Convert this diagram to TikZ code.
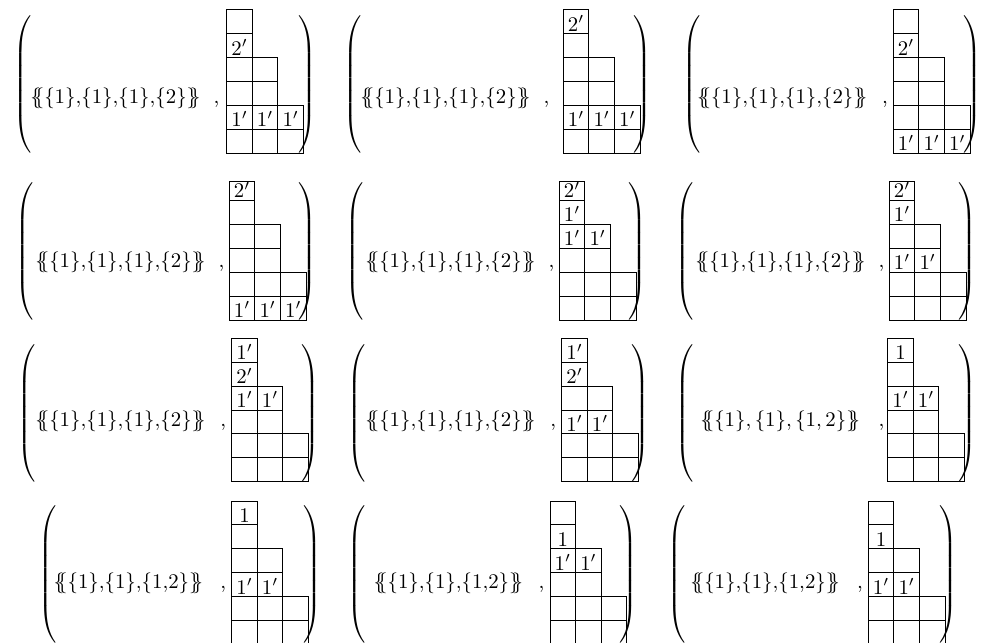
\documentclass[tikz,border=0pt]{standalone}
\usepackage{amsmath}

\newcommand{\lparbig}{$\delimitershortfall=0pt\delimiterfactor=1000\left(\vcenter{\hbox{\rule{0pt}{66pt}}}\right.$}
\newcommand{\rparbig}{$\delimitershortfall=0pt\delimiterfactor=1000\left.\vcenter{\hbox{\rule{0pt}{66pt}}}\right)$}
\newcommand{\msetA}{$\{\!\!\{\{1\}{,}\{1\}{,}\{1\}{,}\{2\}\}\!\!\}$}
\newcommand{\msetB}{$\{\!\!\{\{1\}{,}\{1\}{,}\{1{,}2\}\}\!\!\}$}
\newcommand{\msetC}{$\{\!\!\{\{1\},\{1\},\{1,2\}\}\!\!\}$}
\newcommand{\youngframe}[1]{%
	\foreach \r/\n in {0/3,1/3,2/2,3/2,4/1}
		\foreach \c in {1,...,\n}
			\draw[cell] ({(\c-1)*25.6},{-\r*23.9}) rectangle ++(25.6,-23.9);
	\draw[cell] (0,-119.5) rectangle ++(25.6,-#1);}

\tikzset{
	lpar/.style={anchor=west,inner sep=0pt},
	rpar/.style={anchor=east,inner sep=0pt},
	mset/.style={anchor=base west,inner sep=0pt},
	lab/.style={anchor=base,inner sep=0pt},
	cell/.style={black,line width=0.45pt}
}

\begin{document}
\begin{tikzpicture}[x=0.48pt,y=-0.48pt]
	\useasboundingbox (0,0) rectangle (991,643);

	\node[lpar] (p1l) at (13.3,84.3) {\lparbig};
	\node[mset] (p1m) at (30,104) {\msetA};
	\node[mset] (p1c) at (213.3,104) {,};
	\begin{scope}[shift={(226.7,153.3)},name prefix=p1-]
		\youngframe{23.9}
		\foreach \c/\r/\t in {1/4/2',1/1/1',2/1/1',3/1/1'}
			\node[lab] (c\c\r) at ({(\c-.5)*25.6},{-\r*23.9-2.5}) {$\t$};
	\end{scope}
	\node[rpar] (p1r) at (316.7,84.3) {\rparbig};

	\node[lpar] (p2l) at (343.3,84.3) {\lparbig};
	\node[mset] (p2m) at (360,104) {\msetA};
	\node[mset] (p2c) at (543.3,104) {,};
	\begin{scope}[shift={(563.3,153.3)},name prefix=p2-]
		\youngframe{23.9}
		\foreach \c/\r/\t in {1/5/2',1/1/1',2/1/1',3/1/1'}
			\node[lab] (c\c\r) at ({(\c-.5)*25.6},{-\r*23.9-2.5}) {$\t$};
	\end{scope}
	\node[rpar] (p2r) at (651.7,84.3) {\rparbig};

	\node[lpar] (p3l) at (681.7,84.3) {\lparbig};
	\node[mset] (p3m) at (696.7,104) {\msetA};
	\node[mset] (p3c) at (881.7,104) {,};
	\begin{scope}[shift={(893.3,153.3)},name prefix=p3-]
		\youngframe{23.9}
		\foreach \c/\r/\t in {1/4/2',1/0/1',2/0/1',3/0/1'}
			\node[lab] (c\c\r) at ({(\c-.5)*25.6},{-\r*23.9-2.5}) {$\t$};
	\end{scope}
	\node[rpar] (p3r) at (981.7,84.3) {\rparbig};

	\node[lpar] (p4l) at (15,251.3) {\lparbig};
	\node[mset] (p4m) at (35,267.7) {\msetA};
	\node[mset] (p4c) at (218.3,267.7) {,};
	\begin{scope}[shift={(229.3,320)},name prefix=p4-]
		\youngframe{19.5}
		\foreach \c/\r/\t in {1/5/2',1/0/1',2/0/1',3/0/1'}
			\node[lab] (c\c\r) at ({(\c-.5)*25.6},{-\r*23.9-2.5}) {$\t$};
	\end{scope}
	\node[rpar] (p4r) at (316.7,251.3) {\rparbig};

	\node[lpar] (p5l) at (345,251.3) {\lparbig};
	\node[mset] (p5m) at (365,267.7) {\msetA};
	\node[mset] (p5c) at (548.3,267.7) {,};
	\begin{scope}[shift={(559.3,320)},name prefix=p5-]
		\youngframe{19.5}
		\foreach \c/\r/\t in {1/5/2',1/4/1',1/3/1',2/3/1'}
			\node[lab] (c\c\r) at ({(\c-.5)*25.6},{-\r*23.9-2.5}) {$\t$};
	\end{scope}
	\node[rpar] (p5r) at (646.7,251.3) {\rparbig};

	\node[lpar] (p6l) at (675,251.3) {\lparbig};
	\node[mset] (p6m) at (695,267.7) {\msetA};
	\node[mset] (p6c) at (878.3,267.7) {,};
	\begin{scope}[shift={(889.3,320)},name prefix=p6-]
		\youngframe{19.5}
		\foreach \c/\r/\t in {1/5/2',1/4/1',1/2/1',2/2/1'}
			\node[lab] (c\c\r) at ({(\c-.5)*25.6},{-\r*23.9-2.5}) {$\t$};
	\end{scope}
	\node[rpar] (p6r) at (976.7,251.3) {\rparbig};

	\node[lpar] (p7l) at (16.7,413) {\lparbig};
	\node[mset] (p7m) at (35,426.7) {\msetA};
	\node[mset] (p7c) at (220,426.7) {,};
	\begin{scope}[shift={(231.7,481.7)},name prefix=p7-]
		\youngframe{23.9}
		\foreach \c/\r/\t in {1/5/1',1/4/2',1/3/1',2/3/1'}
			\node[lab] (c\c\r) at ({(\c-.5)*25.6},{-\r*23.9-2.5}) {$\t$};
	\end{scope}
	\node[rpar] (p7r) at (320,413) {\rparbig};

	\node[lpar] (p8l) at (346.7,413) {\lparbig};
	\node[mset] (p8m) at (365,426.7) {\msetA};
	\node[mset] (p8c) at (550,426.7) {,};
	\begin{scope}[shift={(561.7,481.7)},name prefix=p8-]
		\youngframe{23.9}
		\foreach \c/\r/\t in {1/5/1',1/4/2',1/2/1',2/2/1'}
			\node[lab] (c\c\r) at ({(\c-.5)*25.6},{-\r*23.9-2.5}) {$\t$};
	\end{scope}
	\node[rpar] (p8r) at (650,413) {\rparbig};

	\node[lpar] (p9l) at (675,413) {\lparbig};
	\node[mset] (p9m) at (700,426.7) {\msetC};
	\node[mset] (p9c) at (878.3,426.7) {,};
	\begin{scope}[shift={(887.7,481.7)},name prefix=p9-]
		\youngframe{23.9}
		\foreach \c/\r/\t in {1/5/1,1/3/1',2/3/1'}
			\node[lab] (c\c\r) at ({(\c-.5)*25.6},{-\r*23.9-2.5}) {$\t$};
	\end{scope}
	\node[rpar] (p9r) at (976.7,413) {\rparbig};

	\node[lpar] (p10l) at (38.3,574.7) {\lparbig};
	\node[mset] (p10m) at (53.3,588.3) {\msetB};
	\node[mset] (p10c) at (220,588.3) {,};
	\begin{scope}[shift={(231.7,644.4)},name prefix=p10-]
		\youngframe{23.9}
		\foreach \c/\r/\t in {1/5/1,1/2/1',2/2/1'}
			\node[lab] (c\c\r) at ({(\c-.5)*25.6},{-\r*23.9-2.5}) {$\t$};
	\end{scope}
	\node[rpar] (p10r) at (321.7,574.7) {\rparbig};

	\node[lpar] (p11l) at (346.7,574.7) {\lparbig};
	\node[mset] (p11m) at (373.3,588.3) {\msetB};
	\node[mset] (p11c) at (538.3,588.3) {,};
	\begin{scope}[shift={(550,644.4)},name prefix=p11-]
		\youngframe{23.9}
		\foreach \c/\r/\t in {1/4/1,1/3/1',2/3/1'}
			\node[lab] (c\c\r) at ({(\c-.5)*25.6},{-\r*23.9-2.5}) {$\t$};
	\end{scope}
	\node[rpar] (p11r) at (638.3,574.7) {\rparbig};

	\node[lpar] (p12l) at (666.7,574.7) {\lparbig};
	\node[mset] (p12m) at (690,588.3) {\msetB};
	\node[mset] (p12c) at (856.7,588.3) {,};
	\begin{scope}[shift={(868.3,644.4)},name prefix=p12-]
		\youngframe{23.9}
		\foreach \c/\r/\t in {1/4/1,1/2/1',2/2/1'}
			\node[lab] (c\c\r) at ({(\c-.5)*25.6},{-\r*23.9-2.5}) {$\t$};
	\end{scope}
	\node[rpar] (p12r) at (958.3,574.7) {\rparbig};
\end{tikzpicture}
\end{document}
